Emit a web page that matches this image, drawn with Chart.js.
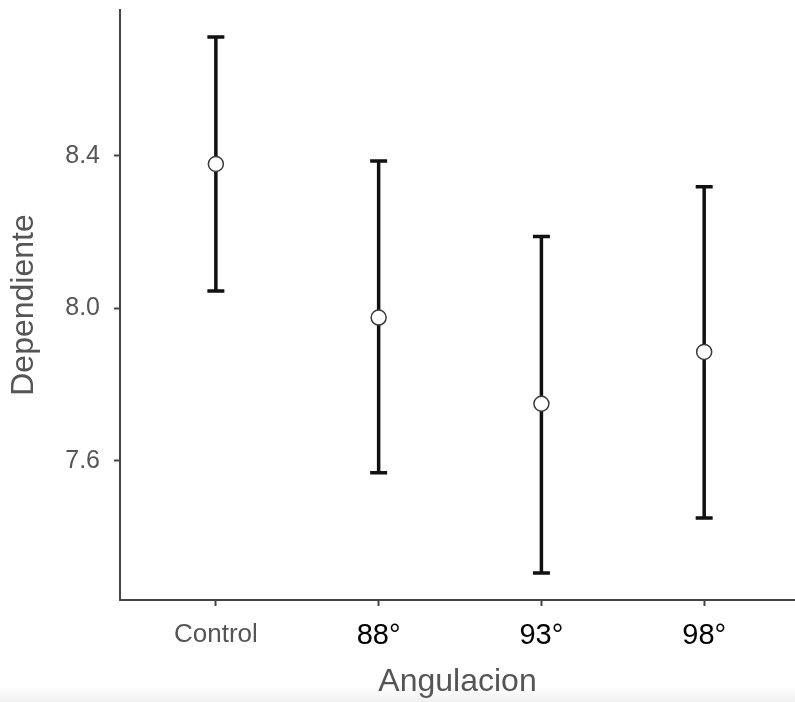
<!DOCTYPE html>
<html>
<head>
<meta charset="utf-8">
<script src="https://cdn.jsdelivr.net/npm/chart.js@4.4.1/dist/chart.umd.min.js"></script>
<style>
  html, body { margin: 0; padding: 0; }
  body {
    width: 795px; height: 702px; overflow: hidden;
    background: linear-gradient(to bottom, #ffffff 0px, #ffffff 686px, #f1f1f1 702px);
  }
  #wrap { position: relative; width: 795px; height: 702px; }
</style>
</head>
<body>
<div id="wrap"><canvas id="grafico" width="795" height="702"></canvas></div>
<script>
// Medias e intervalos por grupo de angulación
const categorias = ['Control', '88°', '93°', '98°'];
const medias = [8.379, 7.976, 7.750, 7.886];
const limSup = [8.712, 8.387, 8.189, 8.319];
const limInf = [8.046, 7.569, 7.306, 7.450];
const ticksY = [7.6, 8.0, 8.4];

const puntos = categorias.map((c, i) => ({ x: i + 1, y: medias[i] }));

// Barras de error dibujadas antes de los puntos
const barrasError = {
    id: 'barrasError',
    beforeDatasetsDraw(chart) {
        const ctx = chart.ctx;
        const xs = chart.scales.x, ys = chart.scales.y;
        const cap = 8.5;
        ctx.save();
        ctx.strokeStyle = '#111111';
        ctx.lineWidth = 3.5;
        ctx.lineCap = 'butt';
        categorias.forEach((c, i) => {
            const px = xs.getPixelForValue(i + 1);
            const top = ys.getPixelForValue(limSup[i]);
            const bot = ys.getPixelForValue(limInf[i]);
            ctx.beginPath();
            ctx.moveTo(px, top); ctx.lineTo(px, bot);
            ctx.moveTo(px - cap, top); ctx.lineTo(px + cap, top);
            ctx.moveTo(px - cap, bot); ctx.lineTo(px + cap, bot);
            ctx.stroke();
        });
        ctx.restore();
    }
};

const ejeGrid = {
    display: true,
    drawOnChartArea: false,
    drawTicks: true,
    tickLength: 6,
    tickWidth: 2,
    tickColor: '#444444',
    color: '#444444'
};

const ctx = document.getElementById('grafico').getContext('2d');
new Chart(ctx, {
    type: 'scatter',
    data: {
        datasets: [{
            data: puntos,
            pointRadius: 7.5,
            pointBackgroundColor: '#ffffff',
            pointBorderColor: '#3a3a3a',
            pointBorderWidth: 1.5
        }]
    },
    options: {
        responsive: false,
        animation: false,
        layout: { autoPadding: false, padding: { top: 10, right: 0, left: 0, bottom: 0 } },
        plugins: { legend: { display: false }, tooltip: { enabled: false } },
        scales: {
            x: {
                type: 'linear',
                min: 0.411,
                max: 4.558,
                afterBuildTicks: s => { s.ticks = categorias.map((c, i) => ({ value: i + 1 })); },
                afterFit: s => {
                    s.height = 102;
                    s.paddingLeft = 0; s.paddingRight = 0;
                },
                border: { display: true, color: '#444444', width: 2 },
                grid: ejeGrid,
                ticks: {
                    padding: 13,
                    maxRotation: 0,
                    callback: (v) => categorias[v - 1],
                    color: c => c.index === 0 ? '#555555' : '#000000',
                    font: c => c.index === 0
                        ? { family: 'Liberation Sans', size: 26 }
                        : { family: 'Liberation Sans', size: 29 }
                },
                title: {
                    display: true,
                    text: 'Angulacion',
                    color: '#555555',
                    font: { family: 'Liberation Sans', size: 32 },
                    padding: { top: 0, bottom: 1 }
                }
            },
            y: {
                min: 7.235,
                max: 8.783,
                afterBuildTicks: s => { s.ticks = ticksY.map(v => ({ value: v })); },
                afterFit: s => {
                    s.width = 120;
                    s.paddingTop = 0; s.paddingBottom = 0;
                },
                border: { display: true, color: '#444444', width: 2 },
                grid: ejeGrid,
                ticks: {
                    padding: 14,
                    color: '#555555',
                    font: { family: 'Liberation Sans', size: 25 },
                    callback: v => v.toFixed(1)
                },
                title: {
                    display: true,
                    text: 'Dependiente',
                    color: '#555555',
                    font: { family: 'Liberation Sans', size: 32 },
                    padding: { top: 5, bottom: 0 }
                }
            }
        }
    },
    plugins: [barrasError]
});
</script>
</body>
</html>
